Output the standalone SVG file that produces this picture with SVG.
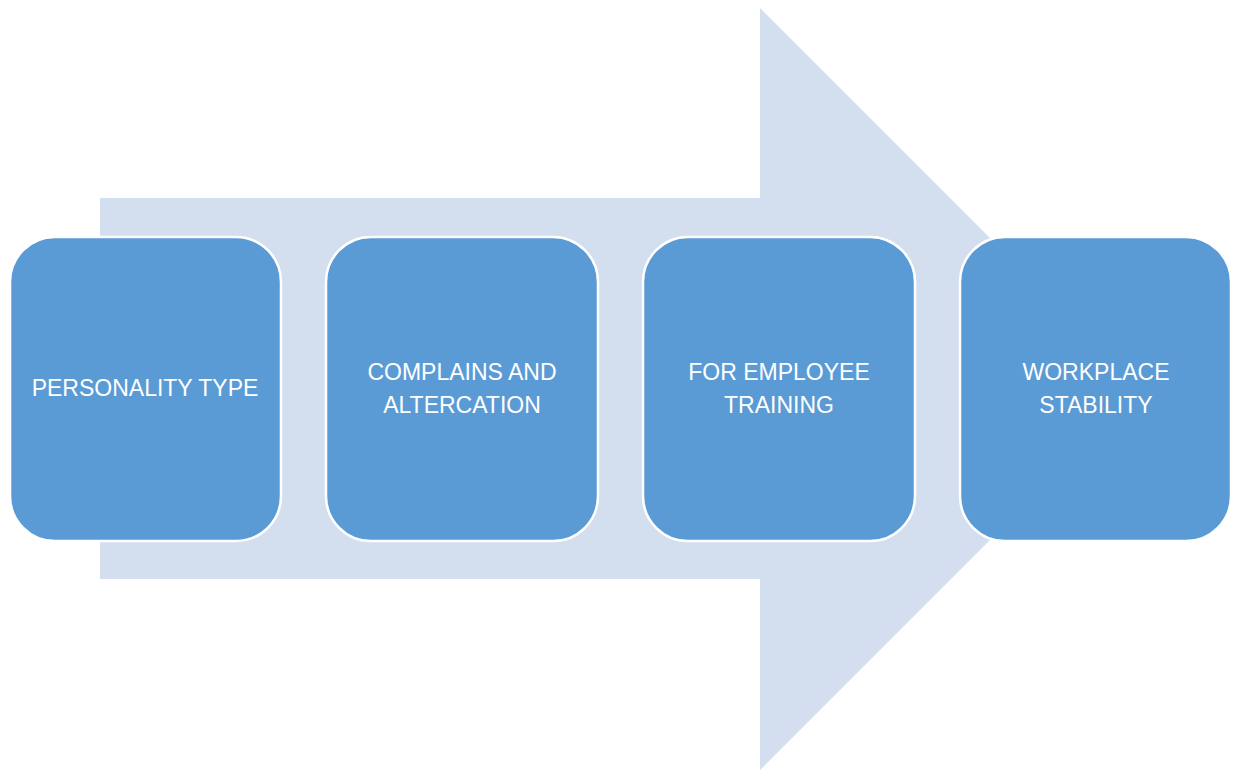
<svg xmlns="http://www.w3.org/2000/svg" width="1236" height="771" viewBox="0 0 1236 771">
<style>
.box{fill:#5B9BD5;stroke:#FFFFFF;stroke-width:2.5}
.lbl{font-family:"Liberation Sans",Arial,sans-serif;font-size:23px;fill:#FFFFFF;text-anchor:middle}
</style>
<rect width="1236" height="771" fill="#FFFFFF"/>
<g id="arrow">
<polygon points="100,198 760,198 760,8 1141,389 760,770 760,579 100,579" fill="#D3DEEF"/>
</g>
<g id="connectors"></g>
<g id="node1">
<rect class="box" x="10" y="237" width="271" height="304" rx="45" ry="45"/>
<text class="lbl" x="145" y="396">PERSONALITY TYPE</text>
</g>
<g id="node2">
<rect class="box" x="326" y="237" width="272" height="304" rx="45" ry="45"/>
<text class="lbl" x="462" y="380">COMPLAINS AND</text>
<text class="lbl" x="462" y="413">ALTERCATION</text>
</g>
<g id="node3">
<rect class="box" x="643" y="237" width="272" height="304" rx="45" ry="45"/>
<text class="lbl" x="779" y="380">FOR EMPLOYEE</text>
<text class="lbl" x="779" y="413">TRAINING</text>
</g>
<g id="node4">
<rect class="box" x="960" y="237" width="271" height="304" rx="45" ry="45"/>
<text class="lbl" x="1096" y="380">WORKPLACE</text>
<text class="lbl" x="1096" y="413">STABILITY</text>
</g>
</svg>
